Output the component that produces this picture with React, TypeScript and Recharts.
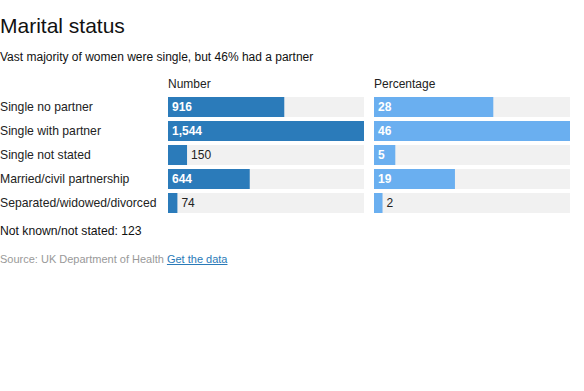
import { BarChart, Bar, XAxis, YAxis, LabelList } from 'recharts'

const categories = [
  'Single no partner',
  'Single with partner',
  'Single not stated',
  'Married/civil partnership',
  'Separated/widowed/divorced',
]
const numbers = [916, 1544, 150, 644, 74]
const percentages = [28, 46, 5, 19, 2]

const data = categories.map((name, i) => ({ name, number: numbers[i], pct: percentages[i] }))

const FONT = '"Liberation Sans", Arial, Helvetica, sans-serif'

function CategoryTick(props: any) {
  const { y, payload } = props
  return (
    <text x={0} y={y} dy="0.355em" textAnchor="start" fontSize={12.2} fill="#222" fontFamily={FONT}>
      {payload.value}
    </text>
  )
}

function makeLabel(format: (v: number) => string) {
  return (props: any) => {
    const { x, y, width, height, value } = props
    const text = format(value)
    const textWidth = text.length * 7 + 8
    const inside = width > textWidth
    return (
      <text
        x={inside ? x + 4 : x + width + 4}
        y={y + height / 2}
        dy="0.355em"
        fontSize={12}
        fontWeight={inside ? 'bold' : 'normal'}
        fill={inside ? '#fff' : '#222'}
        fontFamily={FONT}
      >
        {text}
      </text>
    )
  }
}

export default function App() {
  return (
    <div
      style={{
        position: 'absolute',
        left: 0,
        top: 0,
        width: 584,
        height: 391,
        background: '#fff',
        fontFamily: FONT,
        color: '#222',
      }}
    >
      <div style={{ position: 'absolute', left: 0, top: 15, fontSize: 21, lineHeight: '21px', color: '#111' }}>
        Marital status
      </div>
      <div style={{ position: 'absolute', left: 0, top: 51, fontSize: 12, lineHeight: '13px', color: '#111' }}>
        Vast majority of women were single, but 46% had a partner
      </div>
      <div style={{ position: 'absolute', left: 168, top: 78, fontSize: 12, lineHeight: '12px' }}>Number</div>
      <div style={{ position: 'absolute', left: 374, top: 78, fontSize: 12, lineHeight: '12px' }}>Percentage</div>

      <div style={{ position: 'absolute', left: 0, top: 95 }}>
        <BarChart width={364} height={120} data={data} layout="vertical" margin={{ top: 0, right: 0, bottom: 0, left: 0 }}>
          <XAxis type="number" hide domain={[0, 1544]} />
          <YAxis type="category" dataKey="name" width={168} axisLine={false} tickLine={false} tick={<CategoryTick />} />
          <Bar dataKey="number" fill="#2b7bba" barSize={20} background={{ fill: '#f1f1f1' }} isAnimationActive={false}>
            <LabelList dataKey="number" content={makeLabel((v) => v.toLocaleString('en-GB'))} />
          </Bar>
        </BarChart>
      </div>

      <div style={{ position: 'absolute', left: 374, top: 95 }}>
        <BarChart width={196} height={120} data={data} layout="vertical" margin={{ top: 0, right: 0, bottom: 0, left: 0 }}>
          <XAxis type="number" hide domain={[0, 46]} />
          <YAxis type="category" dataKey="name" hide width={0} />
          <Bar dataKey="pct" fill="#6aaff0" barSize={20} background={{ fill: '#f1f1f1' }} isAnimationActive={false}>
            <LabelList dataKey="pct" content={makeLabel((v) => String(v))} />
          </Bar>
        </BarChart>
      </div>

      <div style={{ position: 'absolute', left: 0, top: 225, fontSize: 12.2, lineHeight: '12px', color: '#111' }}>
        Not known/not stated: 123
      </div>
      <div style={{ position: 'absolute', left: 0, top: 254, fontSize: 11, lineHeight: '11px', color: '#999' }}>
        Source: UK Department of Health{' '}
        <span style={{ color: '#2a7ab8', textDecoration: 'underline' }}>Get the data</span>
      </div>
    </div>
  )
}
